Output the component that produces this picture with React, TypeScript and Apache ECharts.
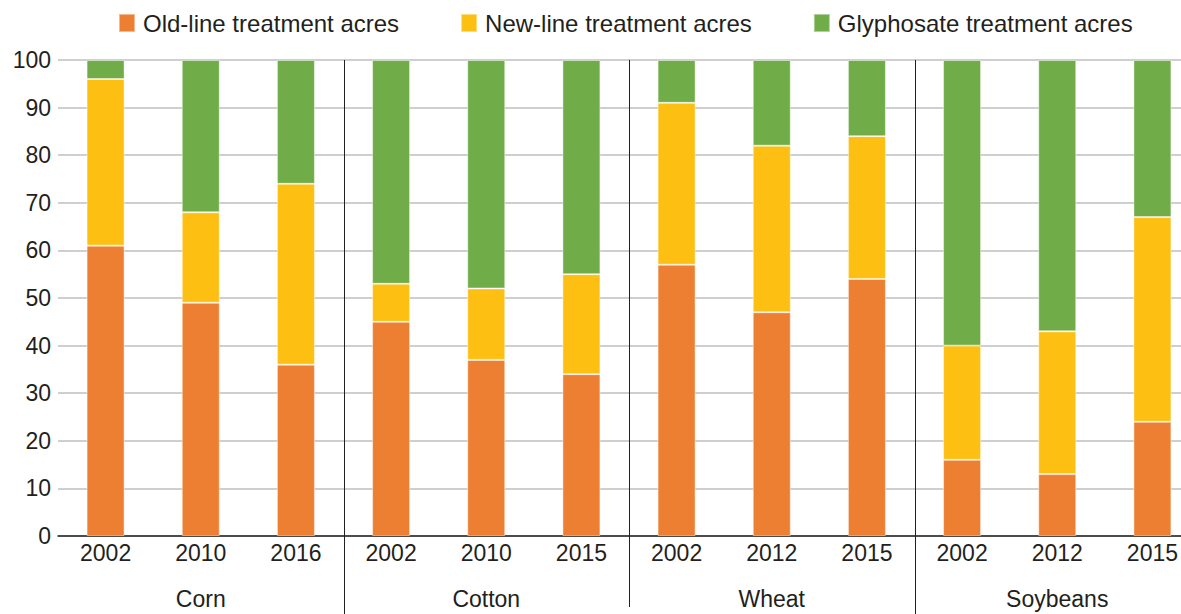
import React, { useEffect, useRef } from "react";
import * as echarts from "echarts";

const years = ["2002", "2010", "2016", "2002", "2010", "2015", "2002", "2012", "2015", "2002", "2012", "2015"];
const crops = ["Corn", "Cotton", "Wheat", "Soybeans"];
const oldLine = [61, 49, 36, 45, 37, 34, 57, 47, 54, 16, 13, 24];
const newLine = [35, 19, 38, 8, 15, 21, 34, 35, 30, 24, 30, 43];
const glyphosate = [4, 32, 26, 47, 48, 45, 9, 18, 16, 60, 57, 33];
const seriesNames = ["Old-line treatment acres", "New-line treatment acres", "Glyphosate treatment acres"];
const colors = ["#ED7F33", "#FCBF12", "#70AC47"];

const FONT = "'Liberation Sans', Arial, Helvetica, sans-serif";
const TEXT = "#231F20";

export default function App() {
  const ref = useRef<HTMLDivElement>(null);
  useEffect(() => {
    document.body.style.margin = "0";
    const chart = echarts.init(ref.current!, null, { renderer: "svg" });
    const values = [oldLine, newLine, glyphosate];
    chart.setOption({
      animation: false,
      textStyle: { fontFamily: FONT },
      legend: {
        top: 11,
        left: 118,
        padding: 0,
        itemWidth: 16,
        itemHeight: 18,
        itemGap: 61,
        icon: "rect",
        textStyle: { fontSize: 24, color: TEXT, fontFamily: FONT, padding: [0, 0, 0, 3] },
        data: seriesNames,
      },
      grid: { left: 58, right: -19, top: 60, bottom: 78, outerBoundsMode: "none", containLabel: false },
      xAxis: [
        {
          type: "category",
          data: years,
          axisLine: { lineStyle: { color: "#231F20", width: 1.5 } },
          axisTick: { show: false },
          axisLabel: { fontSize: 23, color: TEXT, margin: 5, fontFamily: FONT, interval: 0 },
        },
        {
          type: "category",
          data: crops,
          position: "bottom",
          offset: 46,
          axisLine: { show: false },
          axisTick: { show: false },
          axisLabel: { fontSize: 23, color: TEXT, margin: 5, fontFamily: FONT },
        },
      ],
      yAxis: {
        type: "value",
        min: 0,
        max: 100,
        interval: 10,
        axisLine: { show: false },
        axisTick: { show: false },
        axisLabel: { fontSize: 23, color: TEXT, margin: 7, fontFamily: FONT },
        splitLine: { lineStyle: { color: "#BFBFBF", width: 1.5 } },
      },
      series: seriesNames.map((name, i) => ({
        name,
        type: "bar",
        stack: "total",
        barWidth: 38,
        data: values[i],
        itemStyle: { color: colors[i], borderColor: "rgba(255,255,255,0.45)", borderWidth: 1 },
      })),
    });

    const top = chart.convertToPixel({ yAxisIndex: 0 }, 100) as number;
    const sepIdx = [2, 5, 8];
    const bottoms = [614, 607, 614];
    const lines = sepIdx.map((idx, k) => {
      const a = chart.convertToPixel({ xAxisIndex: 0 }, idx) as number;
      const b = chart.convertToPixel({ xAxisIndex: 0 }, idx + 1) as number;
      const x = Math.round((a + b) / 2) + 0.5;
      return {
        type: "line",
        shape: { x1: x, y1: top, x2: x, y2: bottoms[k] },
        style: { stroke: "#231F20", lineWidth: 1 },
        z: 10,
      };
    });
    chart.setOption({ graphic: lines });

    return () => chart.dispose();
  }, []);
  return <div ref={ref} style={{ width: 1181, height: 614 }} />;
}
